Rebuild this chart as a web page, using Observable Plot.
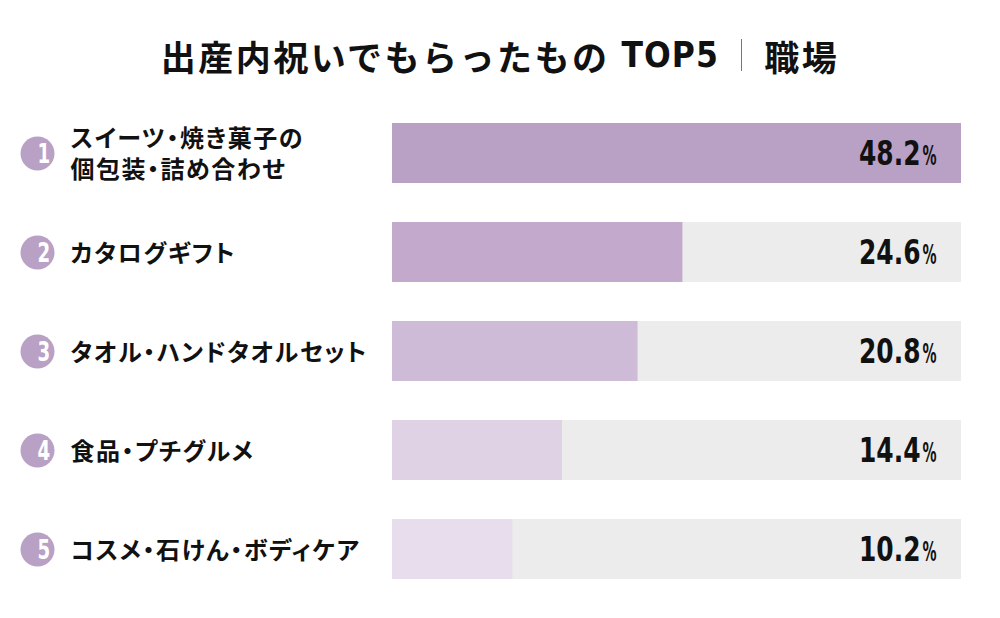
<!DOCTYPE html>
<html><head><meta charset="utf-8">
<script src="https://cdn.jsdelivr.net/npm/d3@7"></script>
<script src="https://cdn.jsdelivr.net/npm/@observablehq/plot@0.6"></script>
<style>
body{margin:0;background:#fff;width:1000px;height:618px;overflow:hidden}
#title{height:100px;box-sizing:border-box;padding-top:10px;display:flex;align-items:center;justify-content:center;font-family:"Noto Sans CJK JP";font-weight:700;font-size:35px;color:#111;letter-spacing:2.5px;white-space:nowrap}
#title .sep{display:inline-block;width:1.5px;height:32px;background:#777;margin:0 22px 0 22px}
#title .en{font-family:"DejaVu Sans Condensed";font-weight:700;font-size:35px;margin-left:12px;letter-spacing:1px}
#chart svg{display:block}
#chart g.lbl text{font-feature-settings:"palt" 1;letter-spacing:1.5px}
</style></head>
<body>
<div id="title"><span>出産内祝いでもらったもの</span><span class="en">TOP5</span><span class="sep"></span><span>職場</span></div>
<div id="chart"></div>
<script>
const ranks = ["1", "2", "3", "4", "5"];
const labels = ["スイーツ・焼き菓子の\n個包装・詰め合わせ", "カタログギフト", "タオル・ハンドタオルセット", "食品・プチグルメ", "コスメ・石けん・ボディケア"];
const values = [48.2, 24.6, 20.8, 14.4, 10.2];
const barColors = ["#b9a0c5", "#c3aacc", "#cdbbd7", "#dfd2e5", "#e8ddec"];
const trackMax = 48.2;

const data = ranks.map((r, i) => ({rank: r, label: labels[i], value: values[i], color: barColors[i]}));

const numFont = "DejaVu Sans Condensed";
const chart = Plot.plot({
  width: 1000, height: 518,
  marginLeft: 392, marginRight: 39, marginTop: 22, marginBottom: 39,
  x: {domain: [0, trackMax], axis: null},
  y: {domain: ranks, axis: null, paddingInner: 0.395, paddingOuter: 0},
  marks: [
    Plot.barX(data, {x1: 0, x2: trackMax, y: "rank", fill: "#ececec"}),
    Plot.barX(data, {x: "value", y: "rank", fill: "color"}),
    Plot.text(data, {y: "rank", text: d => d.value.toFixed(1), frameAnchor: "right", dx: -41, dy: 1, textAnchor: "end", fontSize: 33, fontWeight: 700, fontFamily: numFont, fill: "#111", className: "val"}),
    Plot.text(data, {y: "rank", text: () => "%", frameAnchor: "right", dx: -25, dy: 3, textAnchor: "end", fontSize: 26, fontWeight: 700, fontFamily: numFont, fill: "#111", className: "pct"}),
    Plot.dot(data, {y: "rank", frameAnchor: "left", dx: -355, r: 17, fill: "#b9a0c5", stroke: null}),
    Plot.text(data, {y: "rank", text: "rank", frameAnchor: "left", dx: -355, dy: 1, fontSize: 27, fontWeight: 700, fontFamily: numFont, fill: "#fff", className: "num"}),
    Plot.text(data, {y: "rank", text: "label", frameAnchor: "left", dx: -322, dy: -1, textAnchor: "start", fontSize: 24, fontWeight: 700, fontFamily: "Noto Sans CJK JP", lineHeight: 1.32, fill: "#111", className: "lbl"})
  ]
});
const squeeze = (sel, k) => d3.select(chart).selectAll(sel).each(function() {
  const t = this.getAttribute("transform") || "";
  this.setAttribute("transform", t + ` scale(${k},1)`);
});
squeeze("g.val text", 0.84);
squeeze("g.pct text", 0.6);
squeeze("g.num text", 0.75);
document.getElementById("chart").appendChild(chart);
</script>
</body></html>
